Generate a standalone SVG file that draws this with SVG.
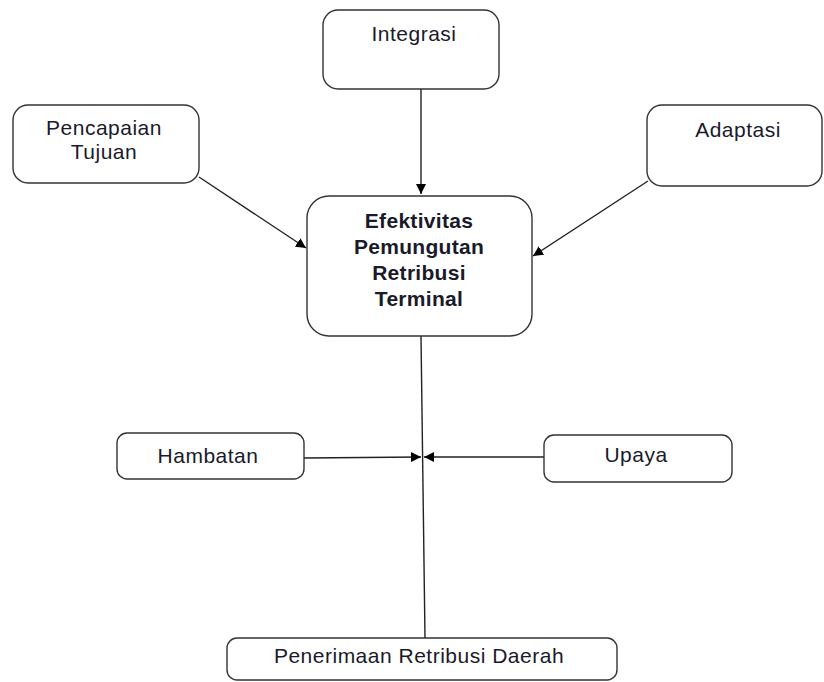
<svg xmlns="http://www.w3.org/2000/svg" width="824" height="682" viewBox="0 0 824 682">
<defs>
<style>
.box{fill:#fff;stroke:#333;stroke-width:1.4}
.t{font-family:"Liberation Sans",Arial,sans-serif;font-size:21px;letter-spacing:0.5px;fill:#1a1a2a;text-anchor:middle}
.b{font-weight:bold;letter-spacing:0.3px}
.c{stroke:#222;stroke-width:1.4;fill:none}
</style>
<marker id="ah" viewBox="0 0 10 10" refX="10" refY="5" markerWidth="10" markerHeight="10" markerUnits="userSpaceOnUse" orient="auto">
<path d="M0,0 L10,5 L0,10 z" fill="#000"/>
</marker>
</defs>
<rect width="824" height="682" fill="#fff"/>
<g id="connectors">
<line class="c" x1="421" y1="89" x2="421" y2="194" marker-end="url(#ah)"/>
<line class="c" x1="199" y1="177" x2="306" y2="248" marker-end="url(#ah)"/>
<line class="c" x1="648" y1="181" x2="533" y2="256" marker-end="url(#ah)"/>
<line class="c" x1="421" y1="336" x2="425" y2="638"/>
<line class="c" x1="304" y1="458" x2="421" y2="457" marker-end="url(#ah)"/>
<line class="c" x1="544" y1="457" x2="424" y2="457" marker-end="url(#ah)"/>
</g>
<g id="integrasi">
<rect class="box" x="323" y="10" width="176" height="79" rx="15"/>
<text class="t" x="414" y="41">Integrasi</text>
</g>
<g id="pencapaian">
<rect class="box" x="13" y="105" width="186" height="78" rx="15"/>
<text class="t" x="104" y="135">Pencapaian</text>
<text class="t" x="104" y="159">Tujuan</text>
</g>
<g id="adaptasi">
<rect class="box" x="647" y="105" width="175" height="81" rx="15"/>
<text class="t" x="738" y="137">Adaptasi</text>
</g>
<g id="efektivitas">
<rect class="box" x="307" y="196" width="225" height="140" rx="22"/>
<text class="t b" x="419" y="228">Efektivitas</text>
<text class="t b" x="419" y="254">Pemungutan</text>
<text class="t b" x="419" y="280">Retribusi</text>
<text class="t b" x="419" y="306">Terminal</text>
</g>
<g id="hambatan">
<rect class="box" x="117" y="433" width="187" height="46" rx="10"/>
<text class="t" x="208" y="463">Hambatan</text>
</g>
<g id="upaya">
<rect class="box" x="544" y="435" width="188" height="47" rx="10"/>
<text class="t" x="636" y="462">Upaya</text>
</g>
<g id="penerimaan">
<rect class="box" x="227" y="638" width="390" height="42" rx="10"/>
<text class="t" x="419" y="663">Penerimaan Retribusi Daerah</text>
</g>
</svg>
